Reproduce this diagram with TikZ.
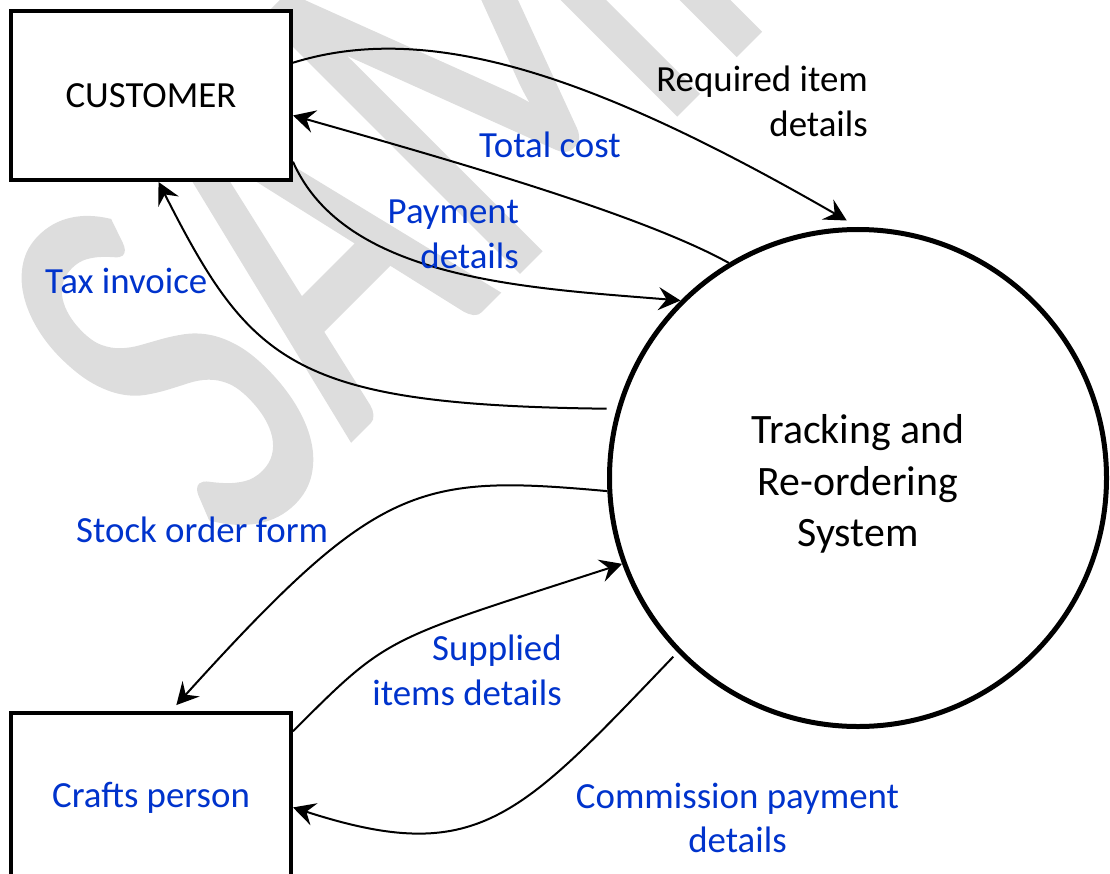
\documentclass[tikz,border=0pt]{standalone}
\usepackage{fontspec}
\setmainfont{Carlito}
\newfontfamily\stampfont{Carlito}[FakeBold=1]
\usetikzlibrary{arrows.meta}
\definecolor{labelblue}{HTML}{0033CC}
\definecolor{markgray}{HTML}{DDDDDD}

\begin{document}
\begin{tikzpicture}[x=1bp, y=-1bp,
  entity/.style={draw, line width=4bp, fill=white, minimum width=280bp,
    minimum height=169bp, inner sep=0pt, font=\fontsize{37}{45}\selectfont},
  process/.style={draw, circle, line width=5bp, fill=white, minimum size=497bp,
    inner sep=0pt, align=center, font=\fontsize{42}{51.5}\selectfont},
  flow/.style={line width=2bp, -{Stealth[length=22bp, width=23bp, inset=8bp]}},
  lbl/.style={inner sep=0pt, font=\fontsize{37}{45}\selectfont},
  bluelbl/.style={lbl, text=labelblue},
  watermark/.style={inner sep=0pt, text=markgray,
    font=\stampfont\fontsize{560}{560}\selectfont}
]
\useasboundingbox (0,0) rectangle (1110,874);
\clip (0,0) rectangle (1110,874);

% background stamp
\node[watermark, rotate=45, xscale=0.65, anchor=base west] (stamp) at (234,556) {SAMPLE};

% external entities and the process
\node[entity] (cust) at (151,95.5) {CUSTOMER};
\node[entity, text=labelblue] (craft) at (151,797.5) {Crafts person};
\node[process] (sys) at (858,478) {\mbox{}\\[-10bp]Tracking and\\Re-ordering\\System};

% data flows
\draw[flow, shorten >=13bp] (cust.13.8) .. controls (430,20) and (596,76) .. (sys.90);
\draw[flow] (sys.121) .. controls (640,214) and (450,160) .. (cust.352.4);
\draw[flow] (cust.335.9) .. controls (345,280) and (528,288) .. (sys.135.6);
\draw[flow, shorten <=10bp] (sys.164) .. controls (293,405) and (251,364) .. (cust.275.9);
\draw[flow, shorten >=8bp] (sys.183.2) .. controls (418,474) and (378,482) .. (craft.77.5);
\draw[flow] (craft.25.1) .. controls (390,634) and (384,641) .. (sys.200.5);
\draw[flow, shorten <=6bp] (sys.224.8) .. controls (518,819) and (477,867) .. (craft.356.2);

% flow labels
\node[lbl, align=right, anchor=east] (lreq) at (868,101.5) {Required item\\details};
\node[bluelbl, anchor=base west] (lcost) at (479,157) {Total cost};
\node[bluelbl, align=right, anchor=east] (lpay) at (519,234.5) {Payment\\details};
\node[bluelbl, anchor=base west] (ltax) at (45,293) {Tax invoice};
\node[bluelbl, anchor=base west] (lstock) at (76,542) {Stock order form};
\node[bluelbl, align=right, anchor=east] (lsup) at (562,670) {Supplied\\items details};
\node[bluelbl, align=center] (lcomm) at (737.5,818) {Commission payment\\details};
\end{tikzpicture}
\end{document}
